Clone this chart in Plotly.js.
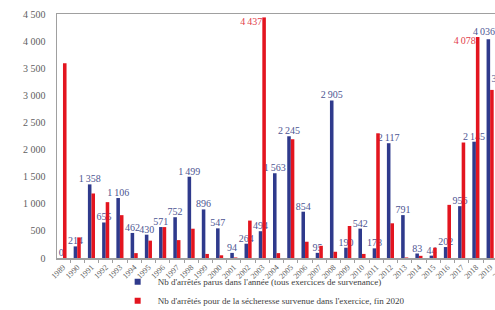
<!DOCTYPE html>
<html>
<head>
<meta charset="utf-8">
<script src="https://cdn.plot.ly/plotly-3.0.1.min.js"></script>
<style>
html, body { margin:0; padding:0; overflow:hidden; background:#fff; width:495px; height:310px; }
#chart { width:530px; height:310px; }
</style>
</head>
<body>
<div id="chart"></div>
<script>
// Data
const years = ['1989','1990','1991','1992','1993','1994','1995','1996','1997','1998','1999','2000','2001','2002','2003','2004','2005','2006','2007','2008','2009','2010','2011','2012','2013','2014','2015','2016','2017','2018','2019','2020'];
const arretesParus = [0,214,1358,655,1106,462,430,571,752,1499,896,547,94,264,494,1563,2245,854,95,2905,190,542,178,2117,791,83,44,202,956,2145,4036,3200];
const arretesSecheresse = [3590,380,1190,1030,790,90,320,570,330,540,75,50,10,690,4437,90,2190,300,225,115,590,75,2300,640,10,40,190,980,2130,4078,3100,null];
const redLabelYears = ['2003','2018'];
const shiftedBlueLabelYears = ['2019'];
const seriesNames = ["Nb d'arrêtés parus dans l'année (tous exercices de survenance)", "Nb d'arrêtés pour de la sécheresse survenue dans l'exercice, fin 2020"];

const fmt = v => (v === null ? '' : String(v).replace(/\B(?=(\d{3})+(?!\d))/g, '\u202f'));

const BLUE = '#2f3a8c';
const RED = '#e3151f';
const SERIF = 'Liberation Serif, Times New Roman, serif';
const BLUE_TXT = '#4d5592';

const redIdx = years.map((y,i)=>i).filter(i => redLabelYears.includes(years[i]));
const shiftIdx = years.map((y,i)=>i).filter(i => shiftedBlueLabelYears.includes(years[i]));

const traces = [
  {
    type:'bar', name: seriesNames[0], x: years, y: arretesParus,
    marker:{color: BLUE}, showlegend:false,
    text: arretesParus.map((v,i) => shiftedBlueLabelYears.includes(years[i]) ? '' : fmt(v)),
    textposition:'outside', cliponaxis:false,
    constraintext:'none',
    textfont:{family: SERIF, size:10, color: BLUE_TXT},
    hoverinfo:'x+y'
  },
  {
    type:'bar', name: seriesNames[1], x: years, y: arretesSecheresse,
    marker:{color: RED}, showlegend:false,
    hoverinfo:'x+y'
  },
  {
    type:'scatter', mode:'text', showlegend:false,
    x: redIdx.map(i => years[i]), y: redIdx.map(i => arretesSecheresse[i]),
    text: redIdx.map(i => fmt(arretesSecheresse[i])),
    textposition:'bottom left', cliponaxis:false,
    textfont:{family: SERIF, size:10, color:'#e2404a'},
    hoverinfo:'skip'
  },
  { type:'scatter', mode:'markers', name: seriesNames[0], x:[years[0]], y:[null],
    marker:{symbol:'square', size:6, color: BLUE}, showlegend:true },
  { type:'scatter', mode:'markers', name: seriesNames[1], x:[years[0]], y:[null],
    marker:{symbol:'square', size:6, color: RED}, showlegend:true }
];

const annotations = shiftIdx.map(i => ({
  x: i, y: arretesParus[i], xref:'x', yref:'y',
  text: fmt(arretesParus[i]), showarrow:false,
  xanchor:'right', yanchor:'bottom', xshift:7, yshift:0,
  font:{family: SERIF, size:10, color: BLUE_TXT}
}));

const layout = {
  width:530, height:310,
  margin:{l:57, r:0, t:14, b:52, autoexpand:false},
  paper_bgcolor:'#fff', plot_bgcolor:'#fff',
  barmode:'group', bargap:0.5, bargroupgap:0,
  showlegend:true,
  annotations: annotations,
  legend:{orientation:'v', xref:'container', x:0.222, xanchor:'left',
          yref:'container', y:0.138, yanchor:'top',
          font:{family: SERIF, size:9, color:'#404040'}, traceorder:'normal',
          bgcolor:'rgba(0,0,0,0)', itemwidth:30, tracegroupgap:0},
  xaxis:{type:'category', range:[-0.42, 32.8], tickangle:-45, automargin:false,
         tickfont:{family: SERIF, size:8, color:'#606060'},
         showline:true, linecolor:'#a0a0a0', linewidth:1.5, mirror:true,
         ticks:'outside', ticklen:3, tickcolor:'#a0a0a0', tickson:'boundaries',
         showgrid:false, zeroline:false, fixedrange:true},
  yaxis:{range:[0,4500], dtick:500, tick0:0, showgrid:false, zeroline:false, automargin:false,
         showline:true, linecolor:'#a0a0a0', linewidth:1.5,
         tickfont:{family: SERIF, size:10, color:'#606060'},
         separatethousands:true, ticks:'', ticklabelstandoff:8, fixedrange:true},
  separators:', '
};

Plotly.newPlot('chart', traces, layout, {displayModeBar:false, staticPlot:true});
</script>
</body>
</html>
